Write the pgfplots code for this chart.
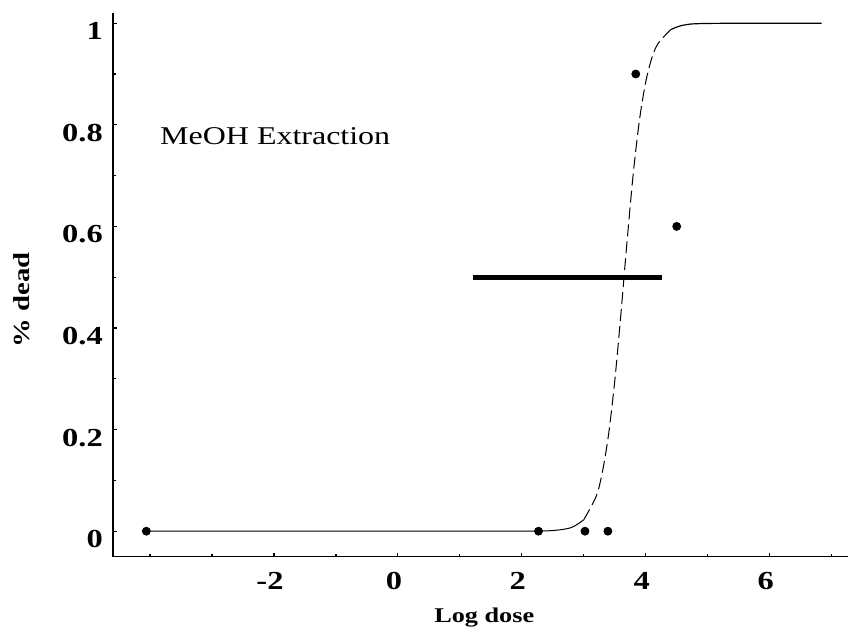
\documentclass[border=0pt]{standalone}
\usepackage{pgfplots}
\pgfplotsset{compat=1.18}
\usepackage{fontspec}
\setmainfont{Liberation Serif}[FakeStretch=1.25]

\begin{document}
\begin{tikzpicture}
    \begin{axis}[
        scale only axis,
        width=368pt, height=272pt,
        xmin=-4.6, xmax=7.27,
        ymin=-0.05, ymax=1.02,
        axis x line*=bottom,
        axis y line*=left,
        axis line style={-, line width=0.7pt},
        xtick={-2,0,2,4,6},
        minor xtick={-4,-3,-1,1,3,5,7},
        ytick={0,0.2,0.4,0.6,0.8,1},
        yticklabels={0,0.2,0.4,0.6,0.8,1},
        minor ytick={0.1,0.3,0.5,0.7,0.9},
        major tick length=2pt,
        minor tick length=1.5pt,
        tick style={line width=0.6pt, black},
        /pgf/number format/assume math mode=true,
        tick label style={font=\bfseries\fontsize{13}{15}\selectfont},
        xticklabel style={anchor=center, yshift=-12pt, xshift=-2pt},
        yticklabel style={anchor=east, yshift=-4pt, xshift=-1.5pt},
        xlabel={Log dose},
        ylabel={\% dead},
        label style={font=\bfseries\fontsize{10.5}{12}\selectfont},
        ylabel style={font=\bfseries\fontsize{11.5}{13}\selectfont},
        xlabel style={at={(axis description cs:0.505,-0.112)}, anchor=center},
        ylabel style={at={(axis description cs:-0.124,0.472)}, anchor=center},
        clip=false
    ]

    % page frame
    \path (axis description cs:-0.1535,-0.145) rectangle (axis description cs:1,1.024);

    %-- fitted curve, flat low part
    \addplot[black, line width=0.5pt, smooth]
    coordinates {
        (-4.06,0) (0,0) (2,0.0001) (2.5,0.0013) (2.8,0.0072) (3.0,0.0225)
    };
    %-- steep part
    \addplot[black, line width=0.5pt, dash pattern=on 6pt off 2.5pt, smooth]
    coordinates {
        (3.0,0.0225) (3.2,0.0685) (3.3,0.116) (3.4,0.190) (3.5,0.295) (3.6,0.428)
        (3.7,0.572) (3.8,0.705) (3.9,0.810) (4.0,0.884) (4.1,0.932)
        (4.2,0.960) (4.4,0.987)
    };
    %-- flat high part
    \addplot[black, line width=0.6pt, smooth]
    coordinates {
        (4.4,0.987) (4.6,0.996) (5.0,0.9995) (6.84,1.0)
    };

    %-- observed
    \addplot[only marks, mark=*, mark size=2pt, black]
    coordinates {
        (-4.06,0) (2.27,0) (3.02,0) (3.39,0) (3.84,0.90) (4.50,0.60)
    };

    %-- LD50 interval
    \addplot[black, line width=2.5pt]
    coordinates { (1.21,0.5) (4.27,0.5) };

    \node[anchor=west, font=\fontsize{12.8}{14}\selectfont] at (axis cs:-3.95,0.778) {MeOH Extraction};

    \end{axis}
\end{tikzpicture}
\end{document}
